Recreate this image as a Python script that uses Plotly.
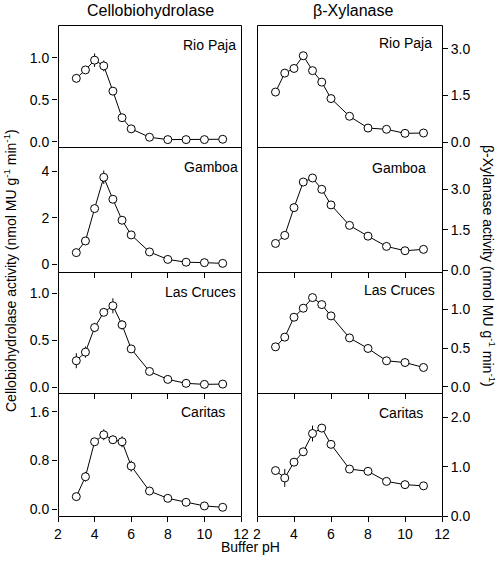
import plotly.graph_objects as go

ph = [3, 3.5, 4, 4.5, 5, 5.5, 6, 7, 8, 9, 10, 11]

sites = ["Rio Paja", "Gamboa", "Las Cruces", "Caritas"]

cbh_rio = [0.756, 0.856, 0.972, 0.904, 0.604, 0.288, 0.156, 0.056, 0.028, 0.028, 0.028, 0.032]
cbh_rio_err = [0, 0, 0.08, 0.064, 0.02, 0, 0, 0, 0, 0, 0, 0]
cbh_gam = [0.50, 1.00, 2.39, 3.73, 2.79, 1.89, 1.26, 0.53, 0.21, 0.09, 0.07, 0.04]
cbh_gam_err = [0, 0, 0.12, 0.29, 0.05, 0, 0, 0, 0, 0, 0, 0]
cbh_las = [0.284, 0.376, 0.638, 0.800, 0.870, 0.667, 0.410, 0.170, 0.085, 0.043, 0.032, 0.035]
cbh_las_err = [0.08, 0.06, 0.05, 0.03, 0.08, 0.05, 0, 0, 0, 0, 0, 0]
cbh_car = [0.208, 0.535, 1.109, 1.224, 1.142, 1.109, 0.710, 0.300, 0.180, 0.115, 0.055, 0.033]
cbh_car_err = [0, 0.08, 0.06, 0.09, 0.07, 0.09, 0.09, 0, 0, 0, 0, 0]

xyl_rio = [1.61, 2.22, 2.37, 2.78, 2.30, 1.93, 1.40, 0.83, 0.45, 0.41, 0.28, 0.29]
xyl_rio_err = [0, 0.1, 0, 0.1, 0, 0, 0, 0, 0, 0, 0, 0]
xyl_gam = [0.99, 1.29, 2.32, 3.27, 3.42, 3.00, 2.42, 1.66, 1.26, 0.88, 0.72, 0.77]
xyl_gam_err = [0, 0, 0, 0.12, 0, 0, 0, 0, 0, 0, 0, 0]
xyl_las = [0.515, 0.640, 0.897, 1.013, 1.150, 1.060, 0.914, 0.630, 0.494, 0.335, 0.313, 0.249]
xyl_las_err = [0] * 12
xyl_car = [0.92, 0.77, 1.09, 1.30, 1.67, 1.78, 1.45, 0.95, 0.905, 0.70, 0.635, 0.61]
xyl_car_err = [0, 0.18, 0.05, 0.08, 0.16, 0, 0, 0, 0, 0, 0, 0]

cbh = [cbh_rio, cbh_gam, cbh_las, cbh_car]
cbh_err = [cbh_rio_err, cbh_gam_err, cbh_las_err, cbh_car_err]
xyl = [xyl_rio, xyl_gam, xyl_las, xyl_car]
xyl_err = [xyl_rio_err, xyl_gam_err, xyl_las_err, xyl_car_err]

cbh_ticks = [[0, 0.5, 1.0], [0, 2, 4], [0, 0.5, 1.0], [0, 0.8, 1.6]]
cbh_ticktext = [["0.0", "0.5", "1.0"], ["0", "2", "4"], ["0.0", "0.5", "1.0"], ["0.0", "0.8", "1.6"]]
xyl_ticks = [[0, 1.5, 3.0], [0, 1.5, 3.0], [0, 0.5, 1.0], [0, 1.0, 2.0]]
xyl_ticktext = [["0.0", "1.5", "3.0"], ["0.0", "1.5", "3.0"], ["0.0", "0.5", "1.0"], ["0.0", "1.0", "2.0"]]

cbh_ranges = [[-0.06, 1.39], [-0.33, 5.03], [-0.06, 1.23], [-0.11, 1.91]]
xyl_ranges = [[-0.16, 3.77], [-0.07, 4.57], [-0.08, 1.48], [0.0, 2.49]]

x_ticks = [2, 4, 6, 8, 10, 12]

# Page geometry (page pixels)
W, H = 500, 564
col_px = [(58, 241), (257, 442)]
row_px = [(25, 147), (147, 272), (272, 393), (393, 516)]
ML = col_px[0][0]
MR = W - col_px[1][1]
MT = row_px[0][0]
MB = H - row_px[3][1]
PW = W - ML - MR
PH = H - MT - MB

def px_x(p):
    return (p - ML) / PW

def px_y(p):
    return (H - MB - p) / PH

FONT = "Liberation Sans, Arial, Helvetica, sans-serif"

fig = go.Figure()
layout = dict(
    width=W, height=H,
    margin=dict(l=ML, r=MR, t=MT, b=MB, autoexpand=False),
    paper_bgcolor="white", plot_bgcolor="white",
    showlegend=False,
    font=dict(family=FONT, size=14, color="black"),
)

annotations = []
shapes = []
idx = 0
for r in range(4):
    for c in range(2):
        idx += 1
        xa = "xaxis" if idx == 1 else f"xaxis{idx}"
        ya = "yaxis" if idx == 1 else f"yaxis{idx}"
        xr = "x" if idx == 1 else f"x{idx}"
        yr = "y" if idx == 1 else f"y{idx}"
        yvals = cbh[r] if c == 0 else xyl[r]
        evals = cbh_err[r] if c == 0 else xyl_err[r]
        fig.add_trace(go.Scatter(
            x=ph, y=yvals, xaxis=xr, yaxis=yr, mode="lines+markers",
            line=dict(color="black", width=1),
            marker=dict(symbol="circle", size=8, color="white",
                        line=dict(color="black", width=1)),
            error_y=dict(type="data", array=evals, visible=True,
                         color="black", thickness=1, width=0),
            cliponaxis=False,
            hoverinfo="skip",
        ))
        x0, x1 = col_px[c]
        y0, y1 = row_px[r]
        layout[xa] = dict(
            domain=[px_x(x0), px_x(x1)], anchor=yr,
            range=[2, 12], tickvals=x_ticks,
            ticks="outside" if r > 0 else "", ticklen=5, tickcolor="black",
            showticklabels=(r == 3),
            showline=False, showgrid=False, zeroline=False,
            tickfont=dict(size=14), fixedrange=True,
        )
        layout[ya] = dict(
            domain=[px_y(y1), px_y(y0)], anchor=xr,
            range=cbh_ranges[r] if c == 0 else xyl_ranges[r],
            tickvals=cbh_ticks[r] if c == 0 else xyl_ticks[r],
            ticktext=cbh_ticktext[r] if c == 0 else xyl_ticktext[r],
            side="left" if c == 0 else "right",
            ticks="outside", ticklen=5, tickcolor="black",
            showline=False, showgrid=False, zeroline=False,
            tickfont=dict(size=14), fixedrange=True,
        )
        shapes.append(dict(
            type="rect", xref="paper", yref="paper",
            x0=px_x(x0 + 0.5), x1=px_x(x1 + 0.5),
            y0=px_y(y1 + 0.5), y1=px_y(y0 + 0.5),
            line=dict(color="black", width=1), fillcolor="rgba(0,0,0,0)",
            layer="above",
        ))

# site labels
lab_left = [(209, 45), (211, 167), (200, 292), (203, 412)]
lab_right = [(405, 43), (399, 168), (399, 290), (401, 413)]
for r in range(4):
    for (px, py) in [lab_left[r], lab_right[r]]:
        annotations.append(dict(
            x=px_x(px), y=px_y(py), xref="paper", yref="paper",
            text=sites[r], showarrow=False, xanchor="center", yanchor="middle",
            font=dict(size=14),
        ))

# column titles
annotations.append(dict(x=px_x(150), y=px_y(11), xref="paper", yref="paper",
                        text="Cellobiohydrolase", showarrow=False,
                        xanchor="center", yanchor="middle", font=dict(size=16)))
annotations.append(dict(x=px_x(353), y=px_y(10), xref="paper", yref="paper",
                        text="β-Xylanase", showarrow=False,
                        xanchor="center", yanchor="middle", font=dict(size=16)))
# axis titles
annotations.append(dict(x=px_x(10), y=px_y(271), xref="paper", yref="paper",
                        text="Cellobiohydrolase activity (nmol MU g<sup>-1</sup> min<sup>-1</sup>)",
                        showarrow=False, textangle=-90,
                        xanchor="center", yanchor="middle", font=dict(size=14)))
annotations.append(dict(x=px_x(489), y=px_y(266), xref="paper", yref="paper",
                        text="β-Xylanase activity (nmol MU g<sup>-1</sup> min<sup>-1</sup>)",
                        showarrow=False, textangle=90,
                        xanchor="center", yanchor="middle", font=dict(size=14)))
annotations.append(dict(x=px_x(250), y=px_y(547), xref="paper", yref="paper",
                        text="Buffer pH", showarrow=False,
                        xanchor="center", yanchor="middle", font=dict(size=14)))

layout["annotations"] = annotations
layout["shapes"] = shapes
fig.update_layout(**layout)
fig.write_html("out.html", config={"displayModeBar": False},
               post_script="document.body.style.margin='0';")
